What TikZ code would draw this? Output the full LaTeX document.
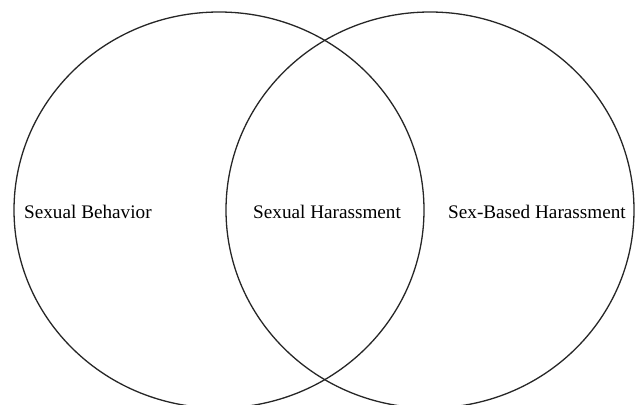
\documentclass[tikz,border=0pt]{standalone}
\usepackage{fontspec}
\setmainfont{Liberation Serif}
\tikzset{
  venn/.style={draw=black!85, line width=1.3bp},
  lbl/.style={font=\fontsize{19.2bp}{23bp}\selectfont, inner sep=0pt, anchor=base west}
}
\begin{document}
\begin{tikzpicture}[x=1bp,y=1bp]
\useasboundingbox (0,0) rectangle (636,404);
\clip (0,0) rectangle (636,404);
\draw[venn] (219,194) ellipse [x radius=205, y radius=198];
\draw[venn] (430,194) ellipse [x radius=204, y radius=198];
\node[lbl] (beh) at (24,186) {Sexual Behavior};
\node[lbl] (sh) at (253,186) {Sexual Harassment};
\node[lbl] (sbh) at (448,186) {Sex-Based Harassment};
\end{tikzpicture}
\end{document}
